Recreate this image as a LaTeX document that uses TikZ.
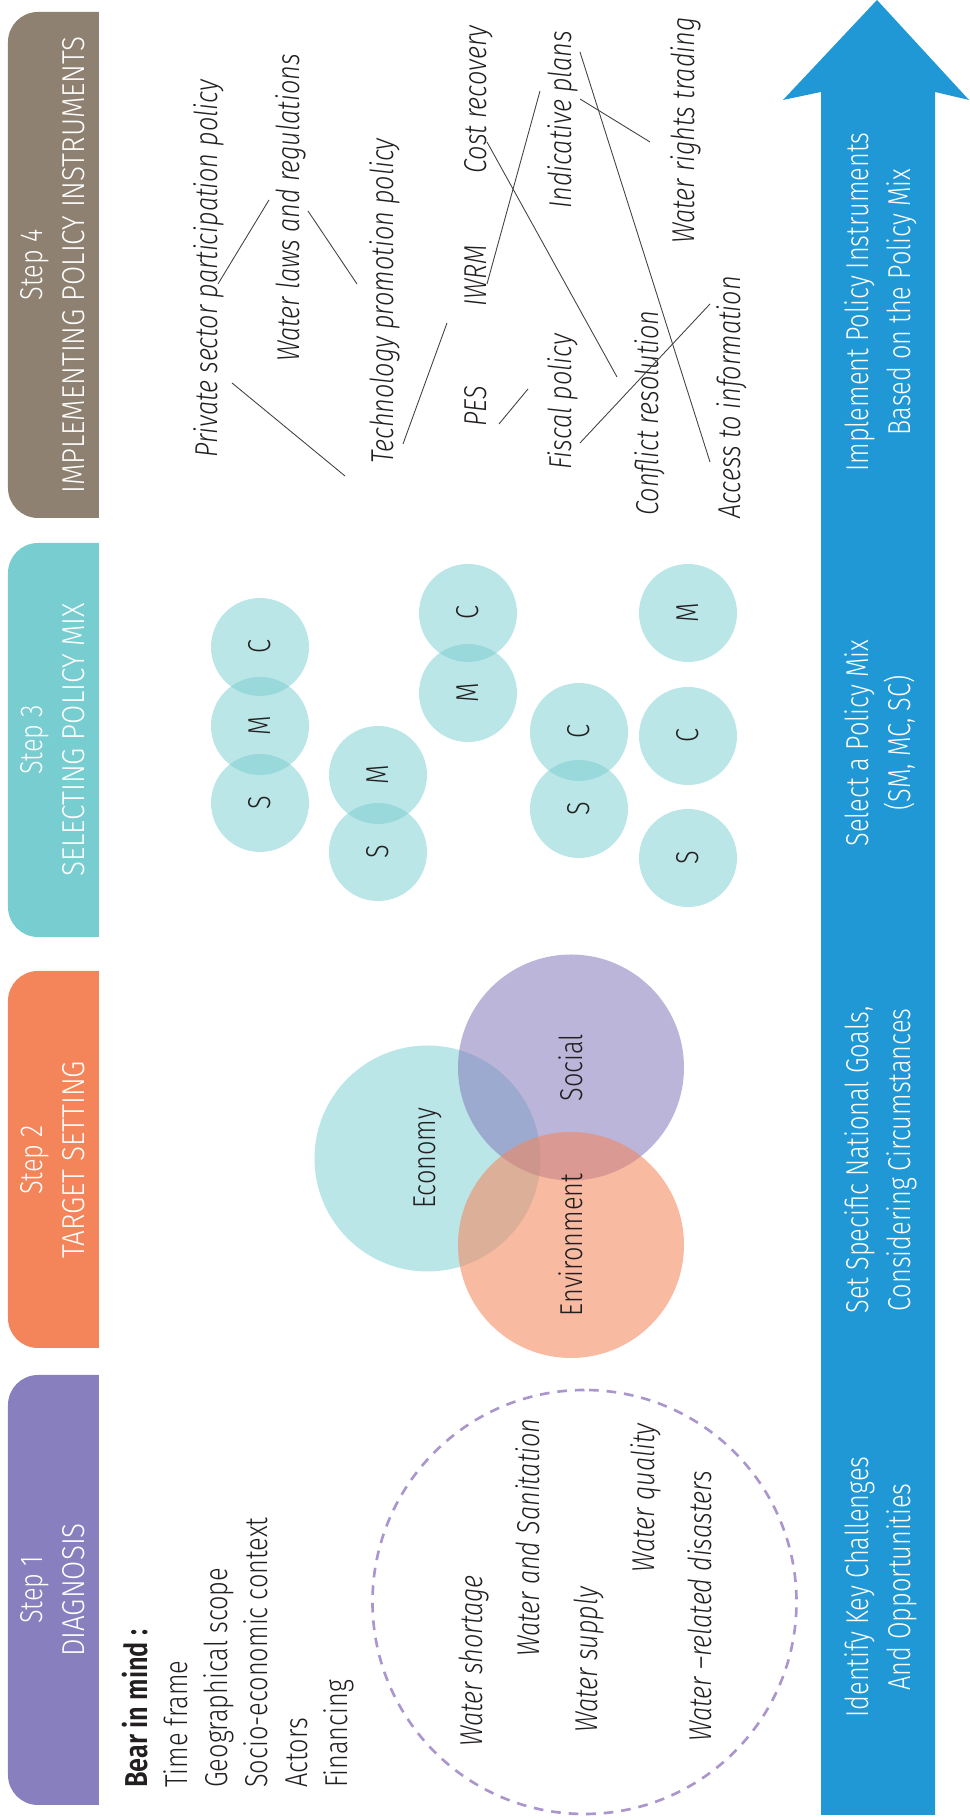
\documentclass[tikz,border=0pt]{standalone}
\usepackage{fontspec}
\setmainfont{Fira Sans Light}[FakeStretch=0.8, ItalicFont={Fira Sans Light Italic}, BoldFont={Fira Sans SemiBold}]
\newfontfamily\titlefont{Fira Sans Light}[FakeStretch=0.88]
\usetikzlibrary{calc}

\definecolor{diagnosis}{RGB}{136,128,190}
\definecolor{target}{RGB}{244,132,90}
\definecolor{mix}{RGB}{120,205,208}
\definecolor{instrument}{RGB}{142,129,113}
\definecolor{flow}{RGB}{32,152,213}
\definecolor{ink}{RGB}{35,31,32}
\definecolor{dashring}{RGB}{170,150,205}

\newcommand{\bodysize}{\fontsize{18}{24}\selectfont}

\tikzset{
  headtxt/.style={anchor=base, inner sep=0pt, text=white},
  titletxt/.style={headtxt, font=\titlefont\bodysize},
  flowtxt/.style={anchor=base, inner sep=0pt, text=white},
  mind/.style={anchor=base west, inner sep=0pt, text=ink},
  issue/.style={anchor=base west, inner sep=0pt, text=ink, font=\bodysize\itshape},
  instr/.style={anchor=base west, inner sep=0pt, text=ink, font=\bodysize\itshape},
  link/.style={draw=ink!85, line width=0.5pt},
  bubble/.style={circle, fill=mix, fill opacity=0.5, text opacity=1, text=ink,
    minimum size=19.6mm, inner sep=0pt},
  venn/.style={circle, fill=#1, text opacity=1, text=ink, minimum size=45.2mm, inner sep=0pt},
}

\begin{document}
\begin{tikzpicture}[x=0.2mm, y=0.2mm, rotate=90, transform shape, font=\bodysize]
  \newcommand{\stepbox}[3]{% left, right, colour
    \fill[#3] (#1,870) -- (#1,931) arc[start angle=180, end angle=90, radius=30]
      -- (#2-30,961) arc[start angle=90, end angle=0, radius=30] -- (#2,870) -- cycle;}
  \useasboundingbox (0,0) rectangle (1820,969);

  % ---------------------------------------------------------------- step headers
  \stepbox{15}{445}{diagnosis}
  \node[headtxt] (s1) at (230,926) {Step 1};
  \node[titletxt] (s1t) at (230,884) {DIAGNOSIS};
  \stepbox{472}{849}{target}
  \node[headtxt] (s2) at (660,926) {Step 2};
  \node[titletxt] (s2t) at (660,884) {TARGET SETTING};
  \stepbox{883}{1277}{mix}
  \node[headtxt] (s3) at (1080,926) {Step 3};
  \node[titletxt] (s3t) at (1080,884) {SELECTING POLICY MIX};
  \stepbox{1302}{1808}{instrument}
  \node[headtxt] (s4) at (1555,926) {Step 4};
  \node[titletxt] (s4t) at (1555,884) {IMPLEMENTING POLICY INSTRUMENTS};

  % ---------------------------------------------------------------- big arrow
  \fill[flow] (5,34) -- (1728,34) -- (1720,0) -- (1820,92) -- (1720,186) -- (1728,148) -- (5,148) -- cycle;
  \node[flowtxt] (g1) at (233,101) {Identify Key Challenges};
  \node[flowtxt] (g1b) at (233,59) {And Opportunities};
  \node[flowtxt] (g2) at (660,101) {Set Specific National Goals,};
  \node[flowtxt] (g2b) at (660,59) {Considering Circumstances};
  \node[flowtxt] (g3) at (1077,101) {Select a Policy Mix};
  \node[flowtxt] (g3b) at (1077,59) {(SM, MC, SC)};
  \node[flowtxt] (g4) at (1518,101) {Implement Policy Instruments};
  \node[flowtxt] (g4b) at (1518,59) {Based on the Policy Mix};

  % ---------------------------------------------------------------- step 1
  \node[mind, font=\bodysize\bfseries] (bear) at (32,821) {Bear in mind :};
  \foreach \t [count=\i] in {Time frame, Geographical scope, Socio-economic context, Actors, Financing}
    \node[mind] (m\i) at (32,{821-40*\i}) {\t};
  \draw[dashring, line width=1.5pt, dash pattern=on 5.5pt off 4.5pt] (218,384.5) circle[radius=212];
  \node[issue] (short) at (73,486) {Water shortage};
  \node[issue] (sanit) at (163,429) {Water and Sanitation};
  \node[issue] (supply) at (87,371) {Water supply};
  \node[issue] (quality) at (247,314) {Water quality};
  \node[issue] (disast) at (78,258) {Water --related disasters};

  % ---------------------------------------------------------------- step 2
  \node[venn=mix, fill opacity=0.5] (econ) at (661.5,541.5) {Economy};
  \node[venn=diagnosis, fill opacity=0.58] (social) at (752.5,398) {Social};
  \node[venn=target, fill opacity=0.56] (env) at (575,398) {Environment};

  % ---------------------------------------------------------------- step 3
  \foreach \n/\x/\y/\l in {c1c/1173/709/C, c1m/1094/709/M, c1s/1017/709/S,
      c2m/1045/591/M, c2s/968/591/S, c3c/1207/501/C, c3m/1127/501/M,
      c4c/1088/390/C, c4s/1011/390/S, c5m/1207/281/M, c5c/1084/281/C, c5s/962/281/S}
    \node[bubble] (\n) at (\x,\y) {\l};

  % ---------------------------------------------------------------- step 4
  \node[instr] (priv) at (1362,751) {Private sector participation policy};
  \node[instr] (laws) at (1458,669) {Water laws and regulations};
  \node[instr] (tech) at (1356,575) {Technology promotion policy};
  \node[instr] (cost) at (1646,482) {Cost recovery};
  \node[instr] (iwrm) at (1513,482) {IWRM};
  \node[instr] (pes) at (1393,482) {PES};
  \node[instr] (indic) at (1611,397) {Indicative plans};
  \node[instr] (fisc) at (1350,397) {Fiscal policy};
  \node[instr] (trade) at (1576,275) {Water rights trading};
  \node[instr] (confl) at (1304,311) {Conflict resolution};
  \node[instr] (access) at (1301,229) {Access to information};
  \draw[link] ($(priv.base west)+(174,0)$) -- ($(laws.base west)+(162,31)$);
  \draw[link] ($(laws.base west)+(151,-8)$) -- ($(tech.base west)+(180,37)$);
  \draw[link] ($(priv.base west)+(75,-14)$) -- ($(tech.base west)+(-12,49)$);
  \draw[link] ($(tech.base west)+(20,-9)$) -- ($(iwrm.base west)+(-16,40)$);
  \draw[link] ($(iwrm.base west)+(23,0)$) -- ($(indic.base west)+(118,32)$);
  \draw[link] ($(cost.base west)+(32,0)$) -- ($(confl.base west)+(139,41)$);
  \draw[link] ($(pes.base west)+(3,-12)$) -- ($(fisc.base west)+(81,44)$);
  \draw[link] ($(fisc.base west)+(27,-8)$) -- ($(access.base west)+(215,30)$);
  \draw[link] ($(indic.base west)+(157,-8)$) -- ($(access.base west)+(57,30)$);
  \draw[link] ($(indic.base west)+(110,-8)$) -- ($(trade.base west)+(102,44)$);
\end{tikzpicture}
\end{document}
